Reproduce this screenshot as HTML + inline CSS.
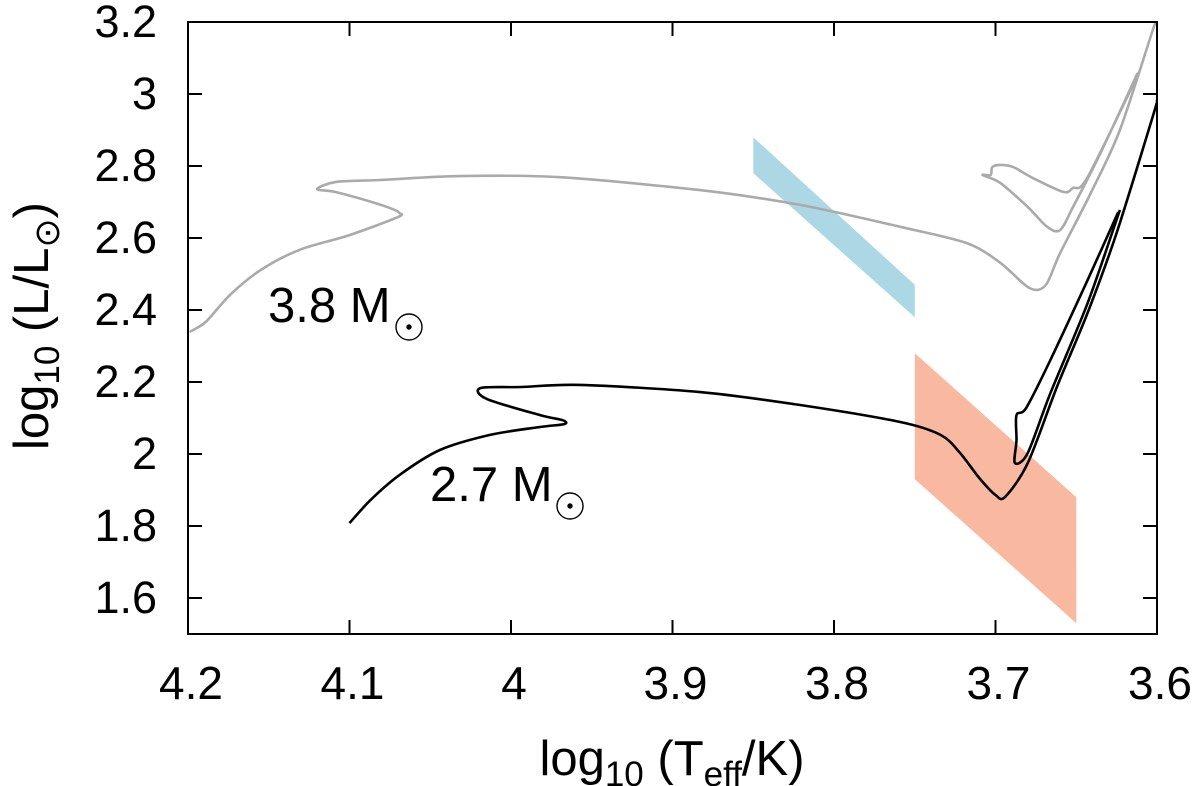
<!DOCTYPE html>
<html><head><meta charset="utf-8"><style>
body{margin:0;background:#fff;}
svg{display:block;font-family:"Liberation Sans",sans-serif;}
</style></head><body>
<svg id="c" width="1200" height="786" viewBox="0 0 1200 786"></svg>
<script>
const xTicks=[4.2,4.1,4.0,3.9,3.8,3.7,3.6];
const xTickLabels=["4.2","4.1","4","3.9","3.8","3.7","3.6"];
const yTicks=[1.6,1.8,2.0,2.2,2.4,2.6,2.8,3.0,3.2];
const yTickLabels=["1.6","1.8","2","2.2","2.4","2.6","2.8","3","3.2"];
const track38T=[4.199,4.189,4.174,4.155,4.131,4.100,4.070,4.069,4.072,4.084,4.109,4.120,4.108,4.081,4.032,3.970,3.883,3.821,3.759,3.718,3.697,3.679,3.669,3.660,3.641,3.623,3.602,3.600];
const track38L=[2.339,2.367,2.442,2.511,2.567,2.608,2.658,2.669,2.678,2.697,2.728,2.736,2.756,2.761,2.772,2.769,2.733,2.692,2.631,2.586,2.531,2.461,2.469,2.558,2.725,2.900,3.186,3.200];
const track38bT=[3.612,3.635,3.652,3.660,3.668,3.680,3.697,3.708,3.703,3.702,3.697,3.689,3.677,3.658,3.652,3.643,3.611];
const track38bL=[3.058,2.836,2.686,2.622,2.631,2.686,2.753,2.775,2.775,2.797,2.803,2.797,2.767,2.728,2.739,2.769,3.061];
const track27T=[4.100,4.087,4.069,4.044,4.013,3.982,3.967,3.968,3.982,4.015,4.019,3.994,3.957,3.883,3.821,3.759,3.734,3.722,3.710,3.700,3.694,3.680,3.662,3.643,3.625,3.602,3.600];
const track27L=[1.808,1.872,1.942,2.011,2.053,2.075,2.083,2.094,2.108,2.153,2.183,2.186,2.192,2.172,2.136,2.089,2.053,2.003,1.933,1.886,1.881,1.975,2.186,2.392,2.614,2.947,2.983];
const track27bT=[3.623,3.643,3.666,3.680,3.688,3.687,3.687,3.681,3.666,3.643,3.624];
const track27bL=[2.678,2.419,2.169,2.003,1.975,2.039,2.108,2.128,2.261,2.483,2.672];
const blueT=[3.85,3.85,3.75,3.75];
const blueL=[2.88,2.78,2.38,2.47];
const salmonT=[3.75,3.75,3.65,3.65];
const salmonL=[2.28,1.93,1.53,1.88];

const X0=188,X1=1157,Y0=22,Y1=634;
const xs=v=>X0+(4.2-v)/0.6*(X1-X0);
const ys=v=>Y0+(3.2-v)/1.7*(Y1-Y0);
const svg=document.getElementById('c');
const NS='http://www.w3.org/2000/svg';
function mk(t,a,p){const e=document.createElementNS(NS,t);for(const k in a)e.setAttribute(k,a[k]);(p||svg).appendChild(e);return e;}
function pts(T,L){return T.map((t,i)=>xs(t).toFixed(1)+','+ys(L[i]).toFixed(1)).join(' ');}
function smooth(T,L){
  const P=T.map((t,i)=>[xs(t),ys(L[i])]);
  let d='M'+P[0][0].toFixed(1)+','+P[0][1].toFixed(1);
  for(let i=0;i<P.length-1;i++){
    const p0=P[Math.max(0,i-1)],p1=P[i],p2=P[i+1],p3=P[Math.min(P.length-1,i+2)];
    const k=0.15;
    const c1=[p1[0]+(p2[0]-p0[0])*k,p1[1]+(p2[1]-p0[1])*k];
    const c2=[p2[0]-(p3[0]-p1[0])*k,p2[1]-(p3[1]-p1[1])*k];
    d+=' C'+c1[0].toFixed(1)+','+c1[1].toFixed(1)+' '+c2[0].toFixed(1)+','+c2[1].toFixed(1)+' '+p2[0].toFixed(1)+','+p2[1].toFixed(1);
  }
  return d;
}

const b=mk('polygon',{points:pts(blueT,blueL),fill:'#acd8e6'});


const s=mk('polygon',{points:pts(salmonT,salmonL),fill:'#f9b8a0'});



const clip=mk('clipPath',{id:'pc'});mk('rect',{x:X0,y:Y0,width:X1-X0,height:Y1-Y0},clip);
[[track38T,track38L,'#aaaaaa','track-3-8-msun'],[track38bT,track38bL,'#aaaaaa','track-3-8-msun-loop'],[track27T,track27L,'#000','track-2-7-msun'],[track27bT,track27bL,'#000','track-2-7-msun-loop']].forEach(d=>{
  const p=mk('path',{d:smooth(d[0],d[1]),fill:'none',stroke:d[2],'stroke-width':2.6,'stroke-linejoin':'round','clip-path':'url(#pc)'});
  
  
});

const f=mk('rect',{x:X0,y:Y0,width:X1-X0,height:Y1-Y0,fill:'none',stroke:'#000','stroke-width':2});



xTicks.forEach((v,i)=>{
  const x=xs(v);
  mk('line',{x1:x,y1:Y1,x2:x,y2:Y1-14,stroke:'#000','stroke-width':2});
  mk('line',{x1:x,y1:Y0,x2:x,y2:Y0+14,stroke:'#000','stroke-width':2});
  const t=mk('text',{x:x+3,y:699,'font-size':46,'text-anchor':'middle'});
  t.textContent=xTickLabels[i];
  
  
});
yTicks.forEach((v,i)=>{
  const y=ys(v);
  mk('line',{x1:X0,y1:y,x2:X0+14,y2:y,stroke:'#000','stroke-width':2});
  mk('line',{x1:X1,y1:y,x2:X1-14,y2:y,stroke:'#000','stroke-width':2});
  const t=mk('text',{x:157,y:y+15,'font-size':45,'text-anchor':'end'});
  t.textContent=yTickLabels[i];
  
  
});

function sun(cx,cy){mk('circle',{cx:cx,cy:cy,r:13,fill:'none',stroke:'#000','stroke-width':1.4});mk('circle',{cx:cx,cy:cy,r:2.7,fill:'#000'});}
const l1=mk('text',{x:268,y:322,'font-size':49});l1.textContent='3.8 M';


sun(409,327);
const l2=mk('text',{x:430,y:501,'font-size':49});l2.textContent='2.7 M';


sun(570,506);

const xt=mk('text',{x:672,y:775,'font-size':49,'text-anchor':'middle'});
xt.innerHTML='log<tspan font-size="35" dy="11">10</tspan><tspan dy="-11"> (T</tspan><tspan font-size="35" dy="11">eff</tspan><tspan dy="-11">/K)</tspan>';


const yt=mk('text',{transform:'translate(48,326) rotate(-90)','font-size':49,'text-anchor':'middle'});
yt.innerHTML='log<tspan font-size="35" dy="11">10</tspan><tspan dy="-11"> (L/L</tspan><tspan font-size="35" dy="11">⊙</tspan><tspan dy="-11">)</tspan>';


</script>
</body></html>
